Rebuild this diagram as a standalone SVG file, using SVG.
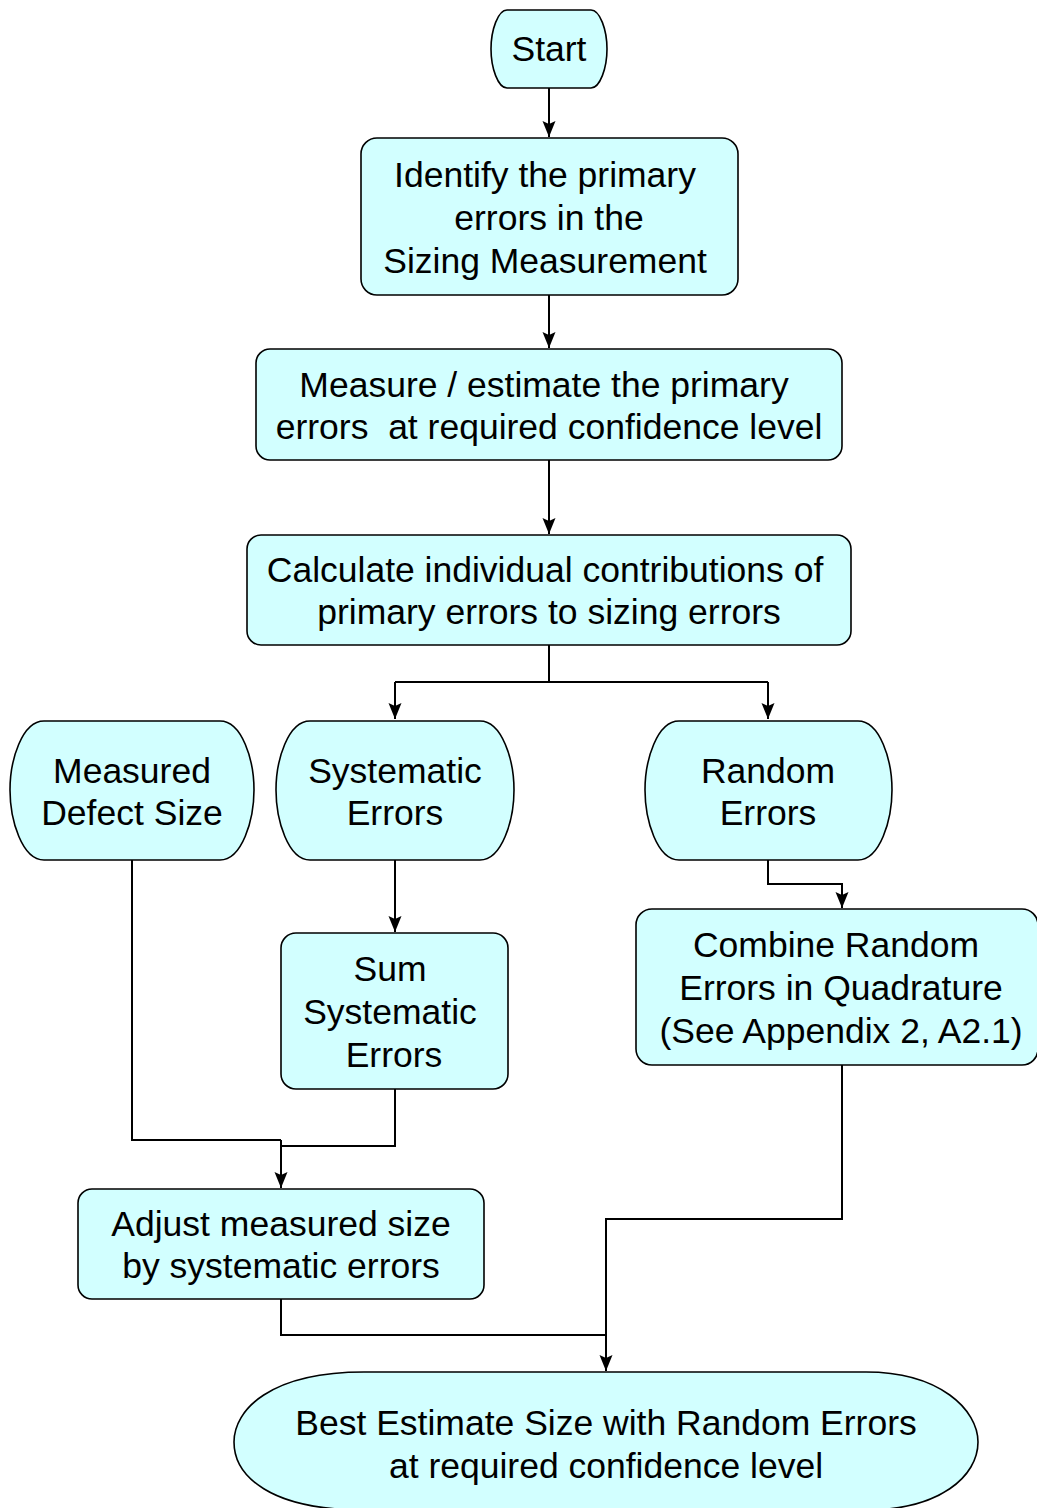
<svg xmlns="http://www.w3.org/2000/svg" width="1037" height="1508" viewBox="0 0 1037 1508">
  <defs>
    <!-- arrowhead drawn along +x so orient="auto" follows the line direction -->
    <marker id="arrow" markerWidth="16" markerHeight="14" refX="16" refY="7" orient="auto" markerUnits="userSpaceOnUse" viewBox="0 0 16 14">
      <path d="M16,7 L0,0.5 L3,7 L0,13.5 Z" fill="#000"/>
    </marker>
    <style>
      .box { fill: #D2FFFF; stroke: #000; stroke-width: 1.6; }
      .lbl { font-family: "Liberation Sans", Arial, sans-serif; font-size: 35.5px; fill: #000; text-anchor: middle; }
      .wire { fill: none; stroke: #000; stroke-width: 2; }
      .arr { marker-end: url(#arrow); }
    </style>
  </defs>
  <rect width="1037" height="1508" fill="#fff"/>

  <!-- connectors -->
  <g id="connectors">
    <path class="wire arr" d="M549,88 V137"/>
    <path class="wire arr" d="M549,295 V348"/>
    <path class="wire arr" d="M549,460 V534"/>
    <path class="wire" d="M549,645 V682 H395 M549,682 H768"/>
    <path class="wire arr" d="M395,682 V719"/>
    <path class="wire arr" d="M768,682 V719"/>
    <path class="wire arr" d="M395,860 V932"/>
    <path class="wire arr" d="M768,860 V884 H842 V908"/>
    <path class="wire" d="M132,860 V1140 H281"/>
    <path class="wire" d="M395,1089 V1146 H281"/>
    <path class="wire arr" d="M281,1140 V1188"/>
    <path class="wire" d="M281,1299 V1335 H606"/>
    <path class="wire arr" d="M842,1065 V1219 H606 V1371"/>
  </g>

  <!-- start terminal -->
  <g id="start">
    <path class="box" d="M507,10 H591 C600,10 607,30 607,49 C607,68 600,88 591,88 H507 C498,88 491,68 491,49 C491,30 498,10 507,10 Z"/>
    <text class="lbl" x="549" y="61">Start</text>
  </g>

  <g id="identify">
    <rect class="box" x="361" y="138" width="377" height="157" rx="16"/>
    <text class="lbl" x="545" y="187">Identify the primary</text>
    <text class="lbl" x="549" y="230">errors in the</text>
    <text class="lbl" x="545" y="273">Sizing Measurement</text>
  </g>

  <g id="measure">
    <rect class="box" x="256" y="349" width="586" height="111" rx="14"/>
    <text class="lbl" x="544" y="397">Measure / estimate the primary</text>
    <text class="lbl" x="549" y="439" xml:space="preserve">errors  at required confidence level</text>
  </g>

  <g id="calculate">
    <rect class="box" x="247" y="535" width="604" height="110" rx="14"/>
    <text class="lbl" x="545" y="582">Calculate individual contributions of</text>
    <text class="lbl" x="549" y="624">primary errors to sizing errors</text>
  </g>

  <g id="measured-defect">
    <path class="box" d="M44,721 H220 C242,721 254,760 254,790 C254,820 242,860 220,860 H44 C22,860 10,820 10,790 C10,760 22,721 44,721 Z"/>
    <text class="lbl" x="132" y="783">Measured</text>
    <text class="lbl" x="132" y="825">Defect Size</text>
  </g>

  <g id="systematic">
    <path class="box" d="M310,721 H480 C502,721 514,760 514,790 C514,820 502,860 480,860 H310 C288,860 276,820 276,790 C276,760 288,721 310,721 Z"/>
    <text class="lbl" x="395" y="783">Systematic</text>
    <text class="lbl" x="395" y="825">Errors</text>
  </g>

  <g id="random">
    <path class="box" d="M679,721 H858 C880,721 892,760 892,790 C892,820 880,860 858,860 H679 C657,860 645,820 645,790 C645,760 657,721 679,721 Z"/>
    <text class="lbl" x="768" y="783">Random</text>
    <text class="lbl" x="768" y="825">Errors</text>
  </g>

  <g id="sum">
    <rect class="box" x="281" y="933" width="227" height="156" rx="15"/>
    <text class="lbl" x="390" y="981">Sum</text>
    <text class="lbl" x="390" y="1024">Systematic</text>
    <text class="lbl" x="394" y="1067">Errors</text>
  </g>

  <g id="combine">
    <rect class="box" x="636" y="909" width="402" height="156" rx="16"/>
    <text class="lbl" x="836" y="957">Combine Random</text>
    <text class="lbl" x="841" y="1000">Errors in Quadrature</text>
    <text class="lbl" x="841" y="1043">(See Appendix 2, A2.1)</text>
  </g>

  <g id="adjust">
    <rect class="box" x="78" y="1189" width="406" height="110" rx="14"/>
    <text class="lbl" x="281" y="1236">Adjust measured size</text>
    <text class="lbl" x="281" y="1278">by systematic errors</text>
  </g>

  <g id="best-estimate">
    <path class="box" d="M364,1372 H866 C940,1372 978,1410 978,1442 C978,1476 940,1510 866,1510 H364 C270,1510 234,1476 234,1442 C234,1410 270,1372 364,1372 Z"/>
    <text class="lbl" x="606" y="1435">Best Estimate Size with Random Errors</text>
    <text class="lbl" x="606" y="1478">at required confidence level</text>
  </g>
</svg>
